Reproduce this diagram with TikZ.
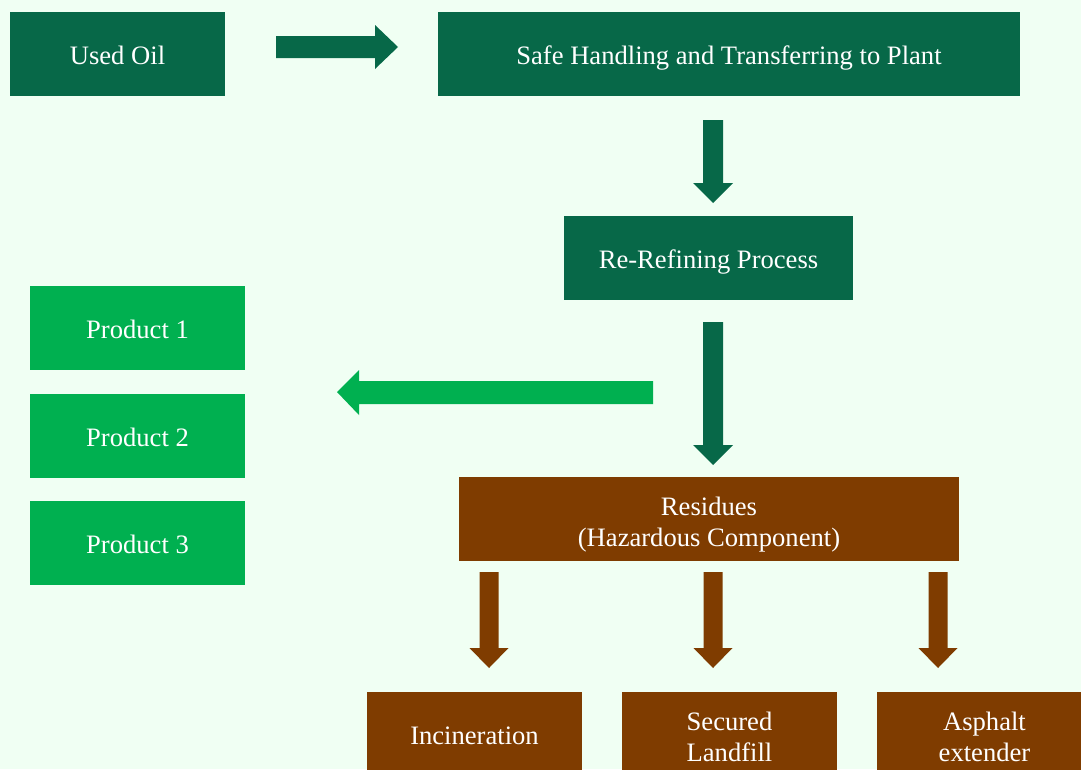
\documentclass[tikz,border=0pt]{standalone}
\usepackage{fontspec}
\setmainfont{Liberation Serif}
\definecolor{bgmint}{HTML}{F0FFF3}
\definecolor{darkgreen}{HTML}{076848}
\definecolor{lightgreen}{HTML}{00B050}
\definecolor{rustbrown}{HTML}{7F3C00}
\begin{document}
\begin{tikzpicture}[x=1pt,y=-1pt,
  box/.style={rectangle, inner sep=0pt, text=white, align=center,
    font=\fontsize{26.6}{31}\selectfont, minimum height=84pt,
    text height=20pt, text depth=0pt},
  twoline/.style={text height=54pt, text depth=0pt},
  dbox/.style={box, fill=darkgreen},
  gbox/.style={box, fill=lightgreen},
  bbox/.style={box, fill=rustbrown},
]
\useasboundingbox (0,0) rectangle (1081,769);
\clip (0,0) rectangle (1081,769);
\fill[bgmint] (0,0) rectangle (1081,769);

% process boxes
\node[dbox, minimum width=215pt] (used) at (117.5,54) {Used Oil};
\node[dbox, minimum width=582pt] (safe) at (729,54) {Safe Handling and Transferring to Plant};
\node[dbox, minimum width=289pt] (refine) at (708.5,258) {Re-Refining Process};

% products
\node[gbox, minimum width=215pt] (p1) at (137.5,328) {Product 1};
\node[gbox, minimum width=215pt] (p2) at (137.5,436) {Product 2};
\node[gbox, minimum width=215pt] (p3) at (137.5,543) {Product 3};

% residues and their disposal
\node[bbox, twoline, minimum width=500pt] (res) at (709,519) {Residues\\(Hazardous Component)};
\node[bbox, minimum width=215pt] (inc) at (474.5,734) {Incineration};
\node[bbox, twoline, minimum width=215pt] (land) at (729.5,734) {Secured\\Landfill};
\node[bbox, twoline, minimum width=215pt] (asph) at (984.5,734) {Asphalt\\extender};

% block arrows
\fill[darkgreen] (276,36) -- (375,36) -- (375,25) -- (398,47) -- (375,69)
  -- (375,58) -- (276,58) -- cycle;
\fill[darkgreen] (703,120) -- (723,120) -- (723,183) -- (733,183) -- (713,203)
  -- (693,183) -- (703,183) -- cycle;
\fill[darkgreen] (703,322) -- (723,322) -- (723,445) -- (733,445) -- (713,465)
  -- (693,445) -- (703,445) -- cycle;
\fill[lightgreen] (653,381) -- (359,381) -- (359,370) -- (337,392) -- (359,415)
  -- (359,404) -- (653,404) -- cycle;
\foreach \cx in {489,713,938}{
  \fill[rustbrown] (\cx-9.5,572) -- (\cx+9.5,572) -- (\cx+9.5,648) -- (\cx+19.5,648)
    -- (\cx,668) -- (\cx-19.5,648) -- (\cx-9.5,648) -- cycle;
}
\end{tikzpicture}
\end{document}
